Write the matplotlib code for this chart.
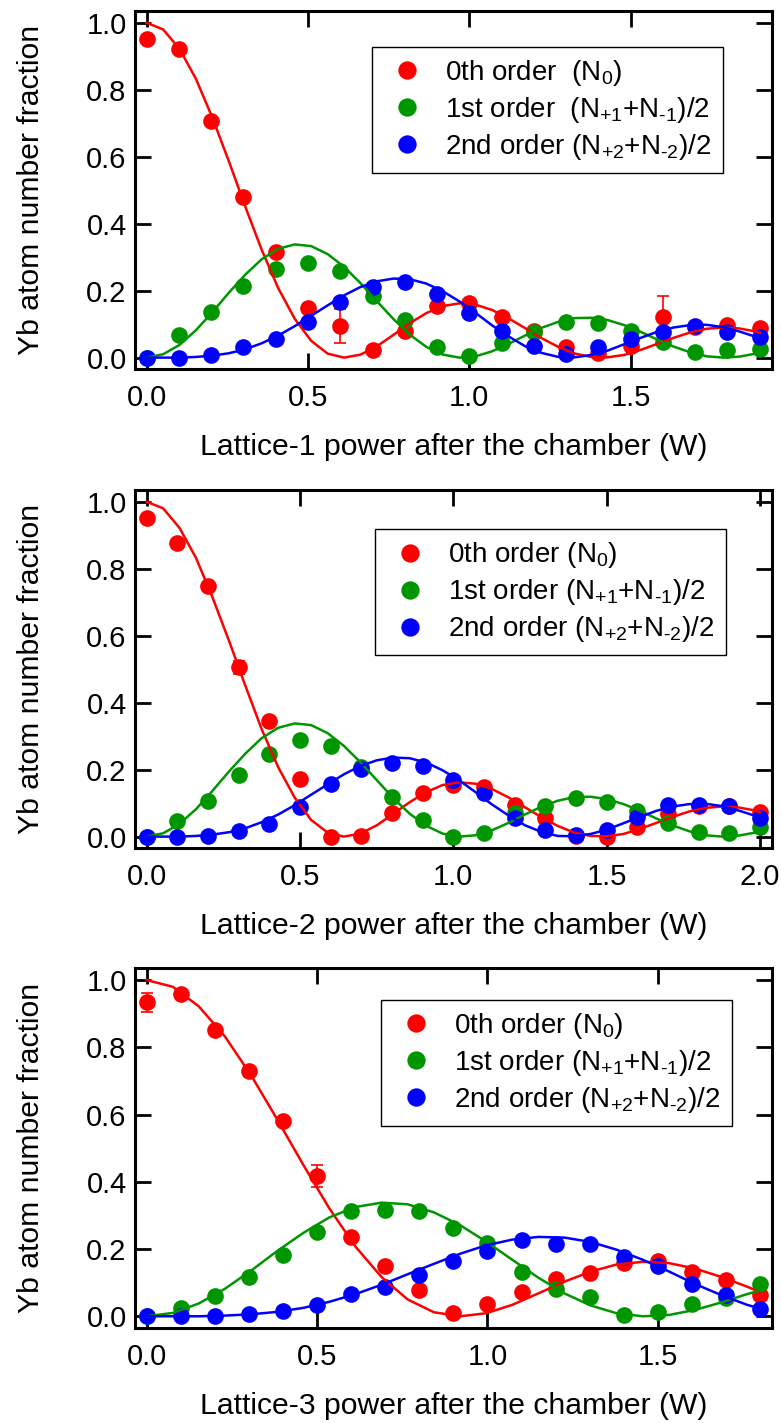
import matplotlib
matplotlib.use('Agg')
import matplotlib.pyplot as plt

plt.rcParams['font.family'] = ['Liberation Sans', 'DejaVu Sans']
plt.rcParams['mathtext.fontset'] = 'custom'
plt.rcParams['mathtext.rm'] = 'Liberation Sans'
plt.rcParams['mathtext.it'] = 'Liberation Sans:italic'
plt.rcParams['mathtext.bf'] = 'Liberation Sans:bold'

RED, GREEN, BLUE = '#ff0000', '#009600', '#0000ff'

# ---- panel 1 : Lattice-1 ----
p1_x = [0.0, 0.1, 0.2, 0.3, 0.4, 0.5, 0.6, 0.7, 0.8, 0.9,
        1.0, 1.1, 1.2, 1.3, 1.4, 1.5, 1.6, 1.7, 1.8, 1.9]
p1_n0 = [0.950, 0.921, 0.707, 0.481, 0.314, 0.148, 0.095, 0.022, 0.080, 0.154,
         0.162, 0.122, 0.080, 0.031, 0.015, 0.036, 0.122, 0.090, 0.098, 0.088]
p1_n0_err = [0.01, 0.01, 0.01, 0.01, 0.01, 0.01, 0.05, 0.01, 0.01, 0.01,
             0.01, 0.01, 0.01, 0.01, 0.01, 0.01, 0.062, 0.01, 0.01, 0.01]
p1_n1 = [0.000, 0.068, 0.135, 0.215, 0.264, 0.282, 0.260, 0.184, 0.112, 0.033,
         0.006, 0.043, 0.076, 0.105, 0.104, 0.078, 0.048, 0.018, 0.023, 0.026]
p1_n2 = [0.000, 0.000, 0.008, 0.031, 0.056, 0.105, 0.165, 0.210, 0.225, 0.189,
         0.132, 0.078, 0.035, 0.010, 0.033, 0.055, 0.075, 0.095, 0.075, 0.063]

# fitted curves
fit1_p = [0.0, 0.051, 0.102, 0.153, 0.204, 0.255, 0.306, 0.357, 0.408, 0.459,
          0.510, 0.561, 0.612, 0.663, 0.714, 0.765, 0.816, 0.867, 0.918, 0.969,
          1.020, 1.071, 1.122, 1.173, 1.224, 1.276, 1.327, 1.378, 1.429, 1.480,
          1.531, 1.582, 1.633, 1.684, 1.735, 1.786, 1.837, 1.888, 1.900]
fit1_n0 = [1.000, 0.980, 0.922, 0.832, 0.716, 0.586, 0.450, 0.321, 0.207, 0.116,
           0.050, 0.012, 0.000, 0.009, 0.034, 0.068, 0.103, 0.133, 0.154, 0.162,
           0.158, 0.142, 0.117, 0.088, 0.058, 0.032, 0.012, 0.002, 0.001, 0.008,
           0.023, 0.041, 0.059, 0.075, 0.086, 0.090, 0.087, 0.078, 0.074]
fit1_n1 = [0.000, 0.010, 0.038, 0.082, 0.136, 0.194, 0.248, 0.294, 0.325, 0.338,
           0.333, 0.309, 0.271, 0.222, 0.168, 0.115, 0.068, 0.032, 0.009, 0.000,
           0.004, 0.019, 0.041, 0.066, 0.089, 0.107, 0.118, 0.119, 0.112, 0.097,
           0.077, 0.054, 0.033, 0.016, 0.004, 0.000, 0.003, 0.012, 0.015]
fit1_n2 = [0.000, 0.000, 0.000, 0.002, 0.006, 0.013, 0.025, 0.043, 0.066, 0.094,
           0.125, 0.156, 0.186, 0.211, 0.228, 0.236, 0.234, 0.221, 0.198, 0.168,
           0.133, 0.096, 0.063, 0.034, 0.014, 0.002, 0.001, 0.008, 0.021, 0.040,
           0.059, 0.077, 0.090, 0.097, 0.098, 0.091, 0.078, 0.062, 0.057]

# ---- panel 2 : Lattice-2 ----
p2_x = [0.0, 0.1, 0.2, 0.3, 0.4, 0.5, 0.6, 0.7, 0.8, 0.9, 1.0,
        1.1, 1.2, 1.3, 1.4, 1.5, 1.6, 1.7, 1.8, 1.9, 2.0]
p2_n0 = [0.952, 0.876, 0.748, 0.505, 0.345, 0.172, 0.000, 0.003, 0.070, 0.129, 0.154,
         0.149, 0.095, 0.057, 0.002, 0.000, 0.030, 0.067, 0.090, 0.090, 0.073]
p2_n0_err = [0.01, 0.01, 0.01, 0.02, 0.01, 0.01, 0.01, 0.01, 0.01, 0.01, 0.01,
             0.01, 0.01, 0.01, 0.01, 0.01, 0.01, 0.01, 0.01, 0.01, 0.01]
p2_n1 = [0.000, 0.047, 0.106, 0.184, 0.247, 0.289, 0.271, 0.209, 0.119, 0.050, 0.000,
         0.012, 0.070, 0.090, 0.116, 0.104, 0.075, 0.040, 0.015, 0.012, 0.030]
p2_n2 = [0.000, 0.000, 0.002, 0.018, 0.037, 0.087, 0.157, 0.202, 0.219, 0.212, 0.169,
         0.131, 0.055, 0.020, 0.005, 0.020, 0.060, 0.095, 0.095, 0.092, 0.057]

fit2_p = [0.0, 0.054, 0.107, 0.161, 0.214, 0.268, 0.322, 0.375, 0.429, 0.483,
          0.536, 0.590, 0.643, 0.697, 0.751, 0.804, 0.858, 0.912, 0.965, 1.019,
          1.072, 1.126, 1.180, 1.233, 1.287, 1.340, 1.394, 1.448, 1.501, 1.555,
          1.609, 1.662, 1.716, 1.769, 1.823, 1.877, 1.930, 1.984, 2.000]
fit2_n0 = [1.000, 0.980, 0.922, 0.832, 0.716, 0.586, 0.450, 0.321, 0.207, 0.116,
           0.050, 0.012, 0.000, 0.009, 0.034, 0.068, 0.103, 0.133, 0.154, 0.162,
           0.158, 0.142, 0.117, 0.088, 0.058, 0.032, 0.012, 0.002, 0.001, 0.008,
           0.023, 0.041, 0.059, 0.075, 0.086, 0.090, 0.087, 0.078, 0.073]
fit2_n1 = [0.000, 0.010, 0.038, 0.082, 0.136, 0.194, 0.248, 0.294, 0.325, 0.338,
           0.333, 0.309, 0.271, 0.222, 0.168, 0.115, 0.068, 0.032, 0.009, 0.000,
           0.004, 0.019, 0.041, 0.066, 0.089, 0.107, 0.118, 0.119, 0.112, 0.097,
           0.077, 0.054, 0.033, 0.016, 0.004, 0.000, 0.003, 0.012, 0.016]
fit2_n2 = [0.000, 0.000, 0.000, 0.002, 0.006, 0.013, 0.025, 0.043, 0.066, 0.094,
           0.125, 0.156, 0.186, 0.211, 0.228, 0.236, 0.234, 0.221, 0.198, 0.168,
           0.133, 0.096, 0.063, 0.034, 0.014, 0.002, 0.001, 0.008, 0.021, 0.040,
           0.059, 0.077, 0.090, 0.097, 0.098, 0.091, 0.078, 0.062, 0.057]

# ---- panel 3 : Lattice-3 ----
p3_x = [0.0, 0.1, 0.2, 0.3, 0.4, 0.5, 0.6, 0.7, 0.8, 0.9,
        1.0, 1.1, 1.2, 1.3, 1.4, 1.5, 1.6, 1.7, 1.8]
p3_n0 = [0.934, 0.959, 0.851, 0.730, 0.581, 0.417, 0.236, 0.151, 0.077, 0.009,
         0.037, 0.072, 0.111, 0.128, 0.158, 0.163, 0.131, 0.107, 0.063]
p3_n0_err = [0.028, 0.01, 0.01, 0.015, 0.01, 0.032, 0.01, 0.01, 0.01, 0.01,
             0.01, 0.01, 0.01, 0.01, 0.01, 0.01, 0.01, 0.01, 0.01]
p3_n1 = [0.000, 0.024, 0.060, 0.116, 0.181, 0.251, 0.312, 0.315, 0.313, 0.264,
         0.219, 0.133, 0.081, 0.057, 0.004, 0.014, 0.037, 0.053, 0.095]
p3_n2 = [0.000, 0.000, 0.000, 0.007, 0.017, 0.035, 0.067, 0.087, 0.124, 0.163,
         0.193, 0.226, 0.216, 0.214, 0.176, 0.151, 0.097, 0.064, 0.022]

fit3_p = [0.0, 0.077, 0.153, 0.230, 0.307, 0.383, 0.460, 0.536, 0.613, 0.690,
          0.766, 0.843, 0.920, 0.996, 1.073, 1.149, 1.226, 1.303, 1.379, 1.456,
          1.533, 1.609, 1.686, 1.762, 1.800]
fit3_n0 = [1.000, 0.980, 0.922, 0.832, 0.716, 0.586, 0.450, 0.321, 0.207, 0.116,
           0.050, 0.012, 0.000, 0.009, 0.034, 0.068, 0.103, 0.133, 0.154, 0.162,
           0.158, 0.142, 0.117, 0.088, 0.072]
fit3_n1 = [0.000, 0.010, 0.038, 0.082, 0.136, 0.194, 0.248, 0.294, 0.325, 0.338,
           0.333, 0.309, 0.271, 0.222, 0.168, 0.115, 0.068, 0.032, 0.009, 0.000,
           0.004, 0.019, 0.041, 0.066, 0.077]
fit3_n2 = [0.000, 0.000, 0.000, 0.002, 0.006, 0.013, 0.025, 0.043, 0.066, 0.094,
           0.125, 0.156, 0.186, 0.211, 0.228, 0.236, 0.234, 0.221, 0.198, 0.168,
           0.133, 0.096, 0.063, 0.034, 0.023]

# U+2010 hyphen keeps the short dash of the original inside the subscripts
labels_wide = ['0th order  (N$_0$)',
               '1st order  (N$_{+1}$+N$_{\u20101}$)/2',
               '2nd order (N$_{+2}$+N$_{\u20102}$)/2']
labels_narrow = ['0th order (N$_0$)',
                 '1st order (N$_{+1}$+N$_{\u20101}$)/2',
                 '2nd order (N$_{+2}$+N$_{\u20102}$)/2']


def draw_panel(ax, px, n0, n0_err, n1, n2, fp, f0, f1, f2,
               xlim, xticks, xlabel, labels, leg_xy):
    ax.errorbar(px, n0, yerr=n0_err, fmt='none', ecolor=RED,
                elinewidth=1.2, capsize=4.6, capthick=1.2, zorder=2)
    h = []
    for y, c in ((n0, RED), (n1, GREEN), (n2, BLUE)):
        ln, = ax.plot(px, y, 'o', ms=12, mew=0, color=c, zorder=3)
        h.append(ln)
    for y, c in ((f0, RED), (f1, GREEN), (f2, BLUE)):
        ax.plot(fp, y, '-', lw=1.8, color=c, zorder=4)

    ax.set_xlim(*xlim)
    ax.set_ylim(-0.034, 1.035)
    ax.set_xticks(xticks)
    ax.set_xticklabels(['%.1f' % t for t in xticks])
    ax.set_yticks([0.0, 0.2, 0.4, 0.6, 0.8, 1.0])
    ax.set_yticklabels(['0.0', '0.2', '0.4', '0.6', '0.8', '1.0'])
    ax.tick_params(which='major', direction='in', length=11.5, width=2,
                   top=True, right=True, labelsize=21)
    ax.tick_params(axis='x', pad=11)
    ax.tick_params(axis='y', pad=6)
    for s in ax.spines.values():
        s.set_linewidth(2.2)

    ax.set_xlabel(xlabel, fontsize=21.7)
    ax.xaxis.set_label_coords(0.5, -0.18)
    ax.set_ylabel('Yb atom number fraction', fontsize=21.7)
    ax.yaxis.set_label_coords(-0.141, 0.5)

    leg = ax.legend(h, labels, loc='upper left', bbox_to_anchor=leg_xy,
                    borderaxespad=0, fancybox=False, framealpha=1,
                    edgecolor='black', fontsize=20, handlelength=1.73,
                    handletextpad=0.51, borderpad=0.4, labelspacing=0.25,
                    markerscale=1.1)
    leg.get_frame().set_linewidth(1.0)


fig = plt.figure(figsize=(7.81, 14.23), dpi=100)
ax1 = fig.add_axes([0.17286, 0.74069, 0.81524, 0.25158])
ax2 = fig.add_axes([0.17286, 0.40408, 0.81524, 0.25158])
ax3 = fig.add_axes([0.17286, 0.06697, 0.81524, 0.25257])

draw_panel(ax1, p1_x, p1_n0, p1_n0_err, p1_n1, p1_n2,
           fit1_p, fit1_n0, fit1_n1, fit1_n2,
           (-0.036, 1.937), [0.0, 0.5, 1.0, 1.5],
           'Lattice-1 power after the chamber (W)', labels_wide, (0.3718, 0.9003))
draw_panel(ax2, p2_x, p2_n0, p2_n0_err, p2_n1, p2_n2,
           fit2_p, fit2_n0, fit2_n1, fit2_n2,
           (-0.038, 2.038), [0.0, 0.5, 1.0, 1.5, 2.0],
           'Lattice-2 power after the chamber (W)', labels_narrow, (0.3769, 0.8902))
draw_panel(ax3, p3_x, p3_n0, p3_n0_err, p3_n1, p3_n2,
           fit3_p, fit3_n0, fit3_n1, fit3_n2,
           (-0.034, 1.834), [0.0, 0.5, 1.0, 1.5],
           'Lattice-3 power after the chamber (W)', labels_narrow, (0.3864, 0.9118))

fig.savefig('out.png', dpi=100)
